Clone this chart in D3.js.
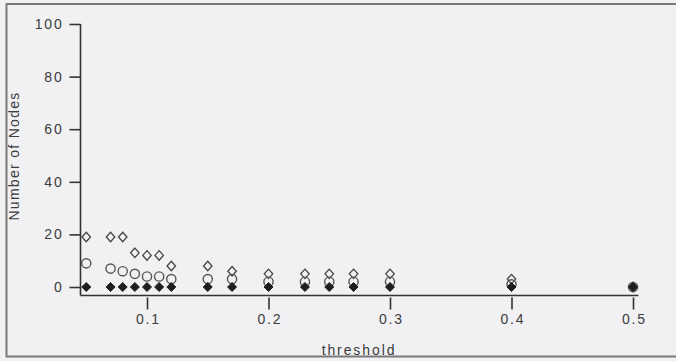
<!DOCTYPE html>
<html>
<head>
<meta charset="utf-8">
<script src="https://cdn.jsdelivr.net/npm/d3@7"></script>
<style>
  html, body { margin: 0; padding: 0; background: #f1f1f4; }
  svg { display: block; }
  text { font-family: "Liberation Sans", Arial, sans-serif; fill: #3c3c3c; }
</style>
</head>
<body>
<svg id="chart" width="676" height="361"></svg>
<script>
// Threshold values on the horizontal axis
const thresholds = [0.05, 0.07, 0.08, 0.09, 0.10, 0.11, 0.12, 0.15, 0.17, 0.20, 0.23, 0.25, 0.27, 0.30, 0.40, 0.50];
// Node counts for each series (open diamonds, open circles, filled diamonds)
const openDiamond = [19, 19, 19, 13, 12, 12, 8, 8, 6, 5, 5, 5, 5, 5, 3, 0];
const openCircle  = [9, 7, 6, 5, 4, 4, 3, 3, 3, 2, 2, 2, 2, 2, 1, 0];
const filledDiamond = [0, 0, 0, 0, 0, 0, 0, 0, 0, 0, 0, 0, 0, 0, 0, 0];
// Axis ticks
const xTicks = [0.1, 0.2, 0.3, 0.4, 0.5];
const yTicks = [0, 20, 40, 60, 80, 100];

const svg = d3.select("#chart");

// Frame around the figure
svg.append("path")
  .attr("d", "M676,4 H6.5 V356.5 H676")
  .attr("fill", "none")
  .attr("stroke", "#7a7a7c")
  .attr("stroke-width", 2);

const x = d3.scaleLinear().domain([0, 0.5]).range([25.5, 633]);
const y = d3.scaleLinear().domain([0, 100]).range([287, 24]);

const axisColor = "#333";
const axisY0 = 295.5;
const axisX0 = 80.5;

// Axis lines
svg.append("line")
  .attr("x1", axisX0).attr("x2", x(0.5045))
  .attr("y1", axisY0).attr("y2", axisY0)
  .attr("stroke", axisColor).attr("stroke-width", 1.6);
svg.append("line")
  .attr("x1", axisX0).attr("x2", axisX0)
  .attr("y1", y(100)).attr("y2", axisY0)
  .attr("stroke", axisColor).attr("stroke-width", 1.6);

// Bottom axis ticks and labels
const xAxis = d3.axisBottom(x).tickValues(xTicks).tickSize(12).tickPadding(5)
  .tickFormat(d3.format(".1f"));
const gx = svg.append("g").attr("transform", `translate(0,${axisY0 + 2})`).call(xAxis);
gx.select(".domain").remove();
gx.selectAll(".tick line").attr("stroke", axisColor).attr("stroke-width", 1.6);
gx.selectAll(".tick text")
  .attr("font-size", 14).attr("letter-spacing", "1.8px").attr("fill", "#3c3c3c")
  .attr("dx", "0.9px");

// Left axis ticks and labels
const yAxis = d3.axisLeft(y).tickValues(yTicks).tickSize(11).tickPadding(6);
const gy = svg.append("g").attr("transform", `translate(${axisX0},0)`).call(yAxis);
gy.select(".domain").remove();
gy.selectAll(".tick line").attr("stroke", axisColor).attr("stroke-width", 1.6);
gy.selectAll(".tick text")
  .attr("font-size", 14).attr("letter-spacing", "1.8px").attr("fill", "#3c3c3c");

// Axis titles
svg.append("text")
  .attr("x", 359).attr("y", 355)
  .attr("text-anchor", "middle")
  .attr("font-size", 14).attr("letter-spacing", "1.9px")
  .text("threshold");
svg.append("text")
  .attr("transform", "translate(19,156) rotate(-90)")
  .attr("text-anchor", "middle")
  .attr("font-size", 14).attr("letter-spacing", "1.3px")
  .text("Number of Nodes");

// Diamond marker roughly as wide as it is tall
const diamondPath = (w, h) => `M0,${-h / 2}L${w / 2},0L0,${h / 2}L${-w / 2},0Z`;

// Open diamonds
svg.append("g").selectAll("path")
  .data(thresholds.map((t, i) => [t, openDiamond[i]]))
  .join("path")
  .attr("d", diamondPath(8.5, 9.5))
  .attr("transform", d => `translate(${x(d[0])},${y(d[1])})`)
  .attr("fill", "none").attr("stroke", "#444").attr("stroke-width", 1.3);

// Open circles
svg.append("g").selectAll("circle")
  .data(thresholds.map((t, i) => [t, openCircle[i]]))
  .join("circle")
  .attr("cx", d => x(d[0])).attr("cy", d => y(d[1])).attr("r", 4.6)
  .attr("fill", "none").attr("stroke", "#555").attr("stroke-width", 1.4);

// Filled diamonds
svg.append("g").selectAll("path")
  .data(thresholds.map((t, i) => [t, filledDiamond[i]]))
  .join("path")
  .attr("d", diamondPath(9, 9))
  .attr("transform", d => `translate(${x(d[0])},${y(d[1])})`)
  .attr("fill", "#1e1e1e").attr("stroke", "#1e1e1e").attr("stroke-width", 1);
</script>
</body>
</html>
